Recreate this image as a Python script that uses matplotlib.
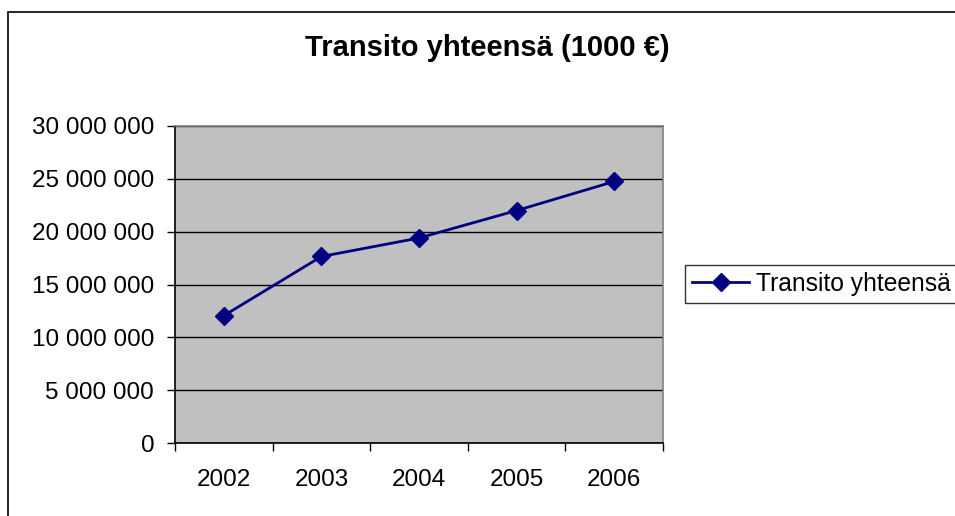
import matplotlib
matplotlib.use("Agg")
import matplotlib.pyplot as plt
from matplotlib.ticker import FuncFormatter, FixedLocator
from matplotlib.patches import Rectangle

years = ["2002", "2003", "2004", "2005", "2006"]
values = [12050000, 17650000, 19400000, 22000000, 24750000]
series_name = "Transito yhteensä"
title = "Transito yhteensä (1000 €)"

plt.rcParams['font.family'] = ['Liberation Sans', 'DejaVu Sans']

fig = plt.figure(figsize=(9.55, 5.16), dpi=100)
fig.patch.set_facecolor('white')

# chart area border (extends beyond the right/bottom edges)
fig.patches.append(Rectangle((8/955, -0.1), 1.1, 1 - 12/516 + 0.1, transform=fig.transFigure,
                             fill=False, edgecolor='black', linewidth=1.2, zorder=0))

ax = fig.add_axes([175/955, (516-443)/516, (663-175)/955, (443-126)/516])
ax.set_facecolor('#C0C0C0')

x = list(range(1, len(years) + 1))
ax.plot(x, values, color='#000080', linewidth=2, marker='D', markersize=9.5,
        markerfacecolor='#000080', markeredgecolor='#000080', label=series_name, zorder=3)

ax.set_xlim(0.5, len(years) + 0.5)
ax.set_ylim(0, 30000000)
ax.set_yticks(range(0, 30000001, 5000000))
ax.yaxis.set_major_formatter(FuncFormatter(lambda v, p: f"{int(v):,}".replace(",", " ")))
ax.grid(axis='y', color='black', linewidth=1)
ax.set_axisbelow(True)

ax.xaxis.set_major_locator(FixedLocator([i + 0.5 for i in range(0, len(years) + 1)]))
ax.xaxis.set_major_formatter(FuncFormatter(lambda v, p: ""))
ax.xaxis.set_minor_locator(FixedLocator(x))
ax.set_xticklabels(years, minor=True)
ax.tick_params(axis='x', which='minor', length=0, pad=19, labelsize=17.5)
ax.tick_params(axis='x', which='major', length=6, width=1, color='black')
ax.tick_params(axis='y', length=6, width=1, color='black', labelsize=17.5, pad=9)

ax.spines['left'].set_color('black')
ax.spines['bottom'].set_color('black')
ax.spines['top'].set_color('#808080')
ax.spines['right'].set_color('#808080')
for s in ax.spines.values():
    s.set_linewidth(1.2)

fig.text(487/955, 1 - 56/516, title, ha='center', va='baseline', fontsize=21, fontweight='bold')

leg = fig.legend(loc='center left', bbox_to_anchor=(685/955, 1 - 303/516, 0.3, 38/516),
                 mode='expand', frameon=True,
                 fancybox=False, edgecolor='black', fontsize=17.7, handlelength=2.3,
                 borderpad=0.3, handletextpad=0.3, borderaxespad=0)
leg.get_frame().set_linewidth(1)

fig.savefig("out.png", dpi=100, facecolor='white')
